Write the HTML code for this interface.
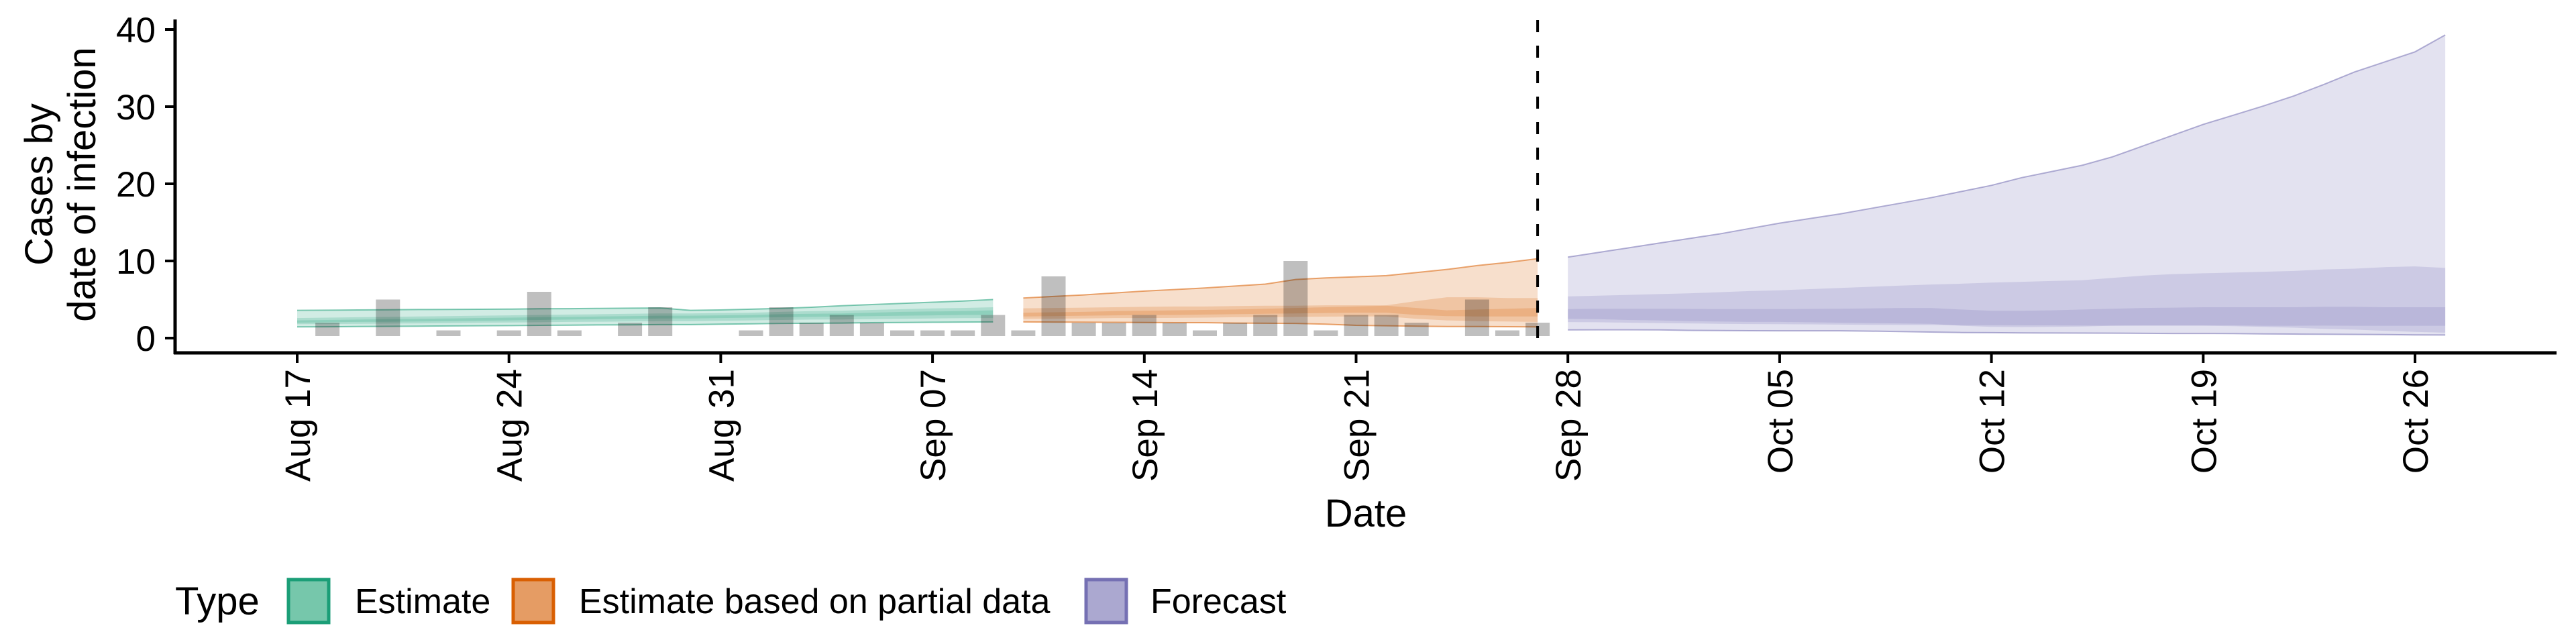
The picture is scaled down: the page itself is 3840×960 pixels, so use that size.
<!DOCTYPE html>
<html><head><meta charset="utf-8"><style>
html,body{margin:0;padding:0;background:#fff;}
svg{display:block;font-family:"Liberation Sans",Arial,sans-serif;}
</style></head><body>
<svg id="chart" width="3840" height="960" viewBox="0 0 3840 960" xmlns="http://www.w3.org/2000/svg">
<g id="bands"></g>
<g id="bars"></g>
<g id="axes"></g>
<text transform="translate(78,275) rotate(-90)" text-anchor="middle" font-size="58">Cases by</text>
<text transform="translate(142,275) rotate(-90)" text-anchor="middle" font-size="58">date of infection</text>
<text x="2036" y="785" text-anchor="middle" font-size="58">Date</text>
<g>
<text x="261" y="916" font-size="58">Type</text>
<rect x="430" y="864" width="60" height="64" fill="#76c7ab" stroke="#1b9e77" stroke-width="5"/>
<text x="529" y="914" font-size="52">Estimate</text>
<rect x="765" y="864" width="60" height="64" fill="#e59c64" stroke="#d95f02" stroke-width="5"/>
<text x="863" y="914" font-size="52">Estimate based on partial data</text>
<rect x="1619" y="864" width="60" height="64" fill="#aba8d0" stroke="#7570b3" stroke-width="5"/>
<text x="1715" y="914" font-size="52">Forecast</text>
</g>
</svg>
<script>
const yTicks = [0, 10, 20, 30, 40];
const xTickLabels = ["Aug 17","Aug 24","Aug 31","Sep 07","Sep 14","Sep 21","Sep 28","Oct 05","Oct 12","Oct 19","Oct 26"];
const xTickDays = [0,7,14,21,28,35,42,49,56,63,70];
const cases = [0,2,0,5,0,1,0,1,6,1,0,2,4,0,0,1,4,2,3,2,1,1,1,3,1,8,2,2,3,2,1,2,3,10,1,3,3,2,0,5,1,2];
const dataEndDay = 41;

const estStart = 0;
const estHi90 = [3.6,3.62,3.65,3.68,3.7,3.72,3.74,3.76,3.8,3.82,3.85,3.88,3.9,3.6,3.65,3.75,3.85,4.0,4.2,4.35,4.5,4.65,4.8,5.0];
const estHi50 = [2.6,2.65,2.7,2.75,2.8,2.85,2.9,2.95,3.0,3.05,3.1,3.15,3.2,3.2,3.25,3.3,3.4,3.5,3.55,3.65,3.75,3.85,3.9,4.0];
const estHi20 = [2.3,2.35,2.4,2.45,2.5,2.55,2.6,2.65,2.7,2.75,2.8,2.85,2.9,2.9,2.95,3.0,3.1,3.15,3.2,3.3,3.4,3.45,3.5,3.6];
const estLo20 = [2.0,2.05,2.1,2.12,2.15,2.2,2.25,2.3,2.35,2.4,2.45,2.5,2.55,2.55,2.6,2.65,2.7,2.75,2.8,2.85,2.9,2.95,3.0,3.0];
const estLo50 = [1.8,1.82,1.85,1.88,1.9,1.95,2.0,2.02,2.05,2.1,2.12,2.15,2.2,2.2,2.25,2.3,2.35,2.4,2.42,2.45,2.5,2.55,2.58,2.6];
const estLo90 = [1.45,1.47,1.5,1.52,1.55,1.57,1.6,1.62,1.65,1.68,1.7,1.72,1.75,1.75,1.8,1.85,1.9,1.92,1.95,2.0,2.02,2.05,2.08,2.1];

const partStart = 24;
const partHi90 = [5.2,5.4,5.6,5.85,6.1,6.3,6.5,6.75,7.0,7.6,7.8,7.95,8.1,8.5,8.9,9.4,9.8,10.3];
const partHi50 = [3.86,3.9,3.95,4.0,4.05,4.1,4.1,4.15,4.2,4.2,4.25,4.25,4.25,4.8,5.3,5.3,5.2,5.2];
const partHi20 = [3.3,3.35,3.4,3.5,3.55,3.6,3.65,3.7,3.8,3.9,4.0,4.1,4.2,3.9,3.6,3.7,3.8,3.9];
const partLo20 = [2.8,2.85,2.9,2.95,3.0,3.0,3.05,3.1,3.15,3.2,3.25,3.3,3.3,3.0,2.85,2.8,2.8,2.8];
const partLo50 = [2.5,2.52,2.55,2.6,2.6,2.62,2.65,2.7,2.72,2.75,2.78,2.8,2.8,2.5,2.3,2.2,2.15,2.1];
const partLo90 = [2.1,2.08,2.06,2.04,2.02,2.0,2.0,1.95,1.92,1.9,1.8,1.65,1.6,1.55,1.5,1.5,1.48,1.45];

const fcStart = 42;
const fcHi90 = [10.5,11.1,11.7,12.3,12.9,13.5,14.2,14.9,15.5,16.1,16.8,17.5,18.2,19.0,19.8,20.8,21.6,22.4,23.5,24.9,26.3,27.7,28.9,30.1,31.4,32.9,34.5,35.8,37.1,39.3];
const fcHi50 = [5.4,5.5,5.6,5.7,5.8,5.95,6.1,6.2,6.35,6.5,6.65,6.8,6.95,7.05,7.2,7.3,7.4,7.5,7.8,8.1,8.3,8.4,8.5,8.6,8.7,8.9,9.0,9.2,9.3,9.1];
const fcHi20 = [3.76,3.8,3.8,3.8,3.78,3.76,3.76,3.76,3.78,3.8,3.85,3.9,3.9,3.7,3.55,3.55,3.6,3.7,3.8,3.9,3.95,4.0,4.0,4.0,4.0,4.05,4.05,4.0,4.0,4.0];
const fcLo20 = [2.5,2.45,2.35,2.3,2.2,2.15,2.1,2.1,2.05,2.0,1.95,1.9,1.85,1.6,1.45,1.43,1.45,1.5,1.6,1.65,1.65,1.65,1.65,1.6,1.6,1.62,1.6,1.6,1.6,1.6];
const fcLo50 = [2.08,2.05,2.0,1.95,1.9,1.85,1.82,1.8,1.78,1.75,1.72,1.7,1.7,1.68,1.67,1.66,1.65,1.63,1.62,1.6,1.6,1.6,1.55,1.45,1.35,1.2,1.1,0.95,0.8,0.7];
const fcLo90 = [1.06,1.08,1.08,1.06,1.0,0.98,0.96,0.95,0.95,0.95,0.9,0.85,0.78,0.72,0.7,0.68,0.66,0.65,0.64,0.62,0.6,0.6,0.58,0.55,0.52,0.5,0.48,0.45,0.42,0.4];

const NS = "http://www.w3.org/2000/svg";
function x(day){ return 443 + day * 45.1; }
function y(v){ return 504 - v * 11.5; }
function mk(tag, attrs, parent){
  const el = document.createElementNS(NS, tag);
  for (const k in attrs) el.setAttribute(k, attrs[k]);
  parent.appendChild(el);
  return el;
}
const bands = document.getElementById("bands");
const bars = document.getElementById("bars");
const axes = document.getElementById("axes");

function linePath(start, arr){
  let d = "";
  for (let i = 0; i < arr.length; i++) d += (i ? "L" : "M") + x(start + i).toFixed(1) + "," + y(arr[i]).toFixed(1);
  return d;
}
function ribbon(start, lo, hi, color, name, outline){
  let d = linePath(start, hi);
  for (let i = lo.length - 1; i >= 0; i--) d += "L" + x(start + i).toFixed(1) + "," + y(lo[i]).toFixed(1);
  d += "Z";
  const p = mk("path", {d: d, fill: color, "fill-opacity": 0.2, stroke: "none"}, bands);
  
  
  if (outline) {
    [hi, lo].forEach(arr => {
      const l = mk("path", {d: linePath(start, arr), fill: "none", stroke: color, "stroke-width": 2, "stroke-opacity": 0.55}, bands);
      
      
    });
  }
}
const groups = [
  [estStart, estLo90, estHi90, estLo50, estHi50, estLo20, estHi20, "#1b9e77", "estimate"],
  [partStart, partLo90, partHi90, partLo50, partHi50, partLo20, partHi20, "#d95f02", "partial-estimate"],
  [fcStart, fcLo90, fcHi90, fcLo50, fcHi50, fcLo20, fcHi20, "#7570b3", "forecast"]
];
groups.forEach(g => {
  ribbon(g[0], g[1], g[2], g[7], g[8] + "-ribbon-90", true);
  ribbon(g[0], g[3], g[4], g[7], g[8] + "-ribbon-50", false);
  ribbon(g[0], g[5], g[6], g[7], g[8] + "-ribbon-20", false);
});

cases.forEach((v, i) => {
  if (v <= 0) return;
  const top = y(v);
  const r = mk("rect", {x: (x(i) - 18).toFixed(1), y: top.toFixed(1), width: 36, height: Math.max(0, 501 - top).toFixed(1), fill: "#000", "fill-opacity": 0.25}, bars);
  
  
});

const yl = mk("line", {x1: 261, y1: 29, x2: 261, y2: 528, stroke: "#000", "stroke-width": 5}, axes);


const xl = mk("line", {x1: 259, y1: 526, x2: 3811, y2: 526, stroke: "#000", "stroke-width": 5}, axes);


yTicks.forEach(t => {
  const tk = mk("line", {x1: 246, y1: y(t), x2: 261, y2: y(t), stroke: "#000", "stroke-width": 4}, axes);
  
  
  const lb = mk("text", {x: 232, y: y(t) + 19, "text-anchor": "end", "font-size": 53}, axes);
  lb.textContent = t;
  
  
});
xTickDays.forEach((d, i) => {
  const tk = mk("line", {x1: x(d), y1: 526, x2: x(d), y2: 541, stroke: "#000", "stroke-width": 4}, axes);
  
  
  const lb = mk("text", {transform: "translate(" + (x(d) + 19) + ",550) rotate(-90)", "text-anchor": "end", "font-size": 53}, axes);
  lb.textContent = xTickLabels[i];
  
  
});
const vl = mk("line", {x1: x(dataEndDay), y1: 30, x2: x(dataEndDay), y2: 526, stroke: "#000", "stroke-width": 4, "stroke-dasharray": "18,20"}, axes);


</script>
</body></html>
